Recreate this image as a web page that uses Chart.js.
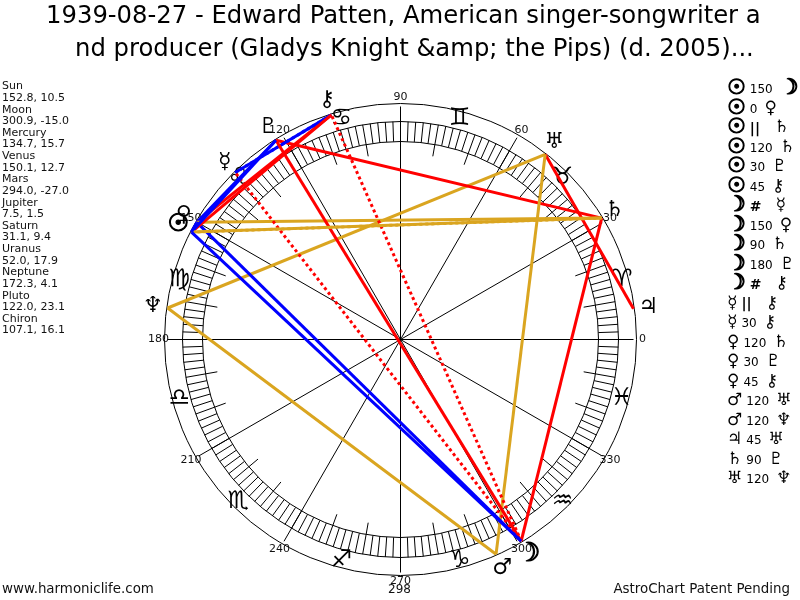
<!DOCTYPE html>
<html>
<head>
<meta charset="utf-8">
<style>
  html, body { margin: 0; padding: 0; background: #fff; }
  canvas { display: block; }
</style>
<script src="https://cdn.jsdelivr.net/npm/chart.js@4/dist/chart.umd.min.js"></script>
</head>
<body>
<canvas id="chart" width="800" height="600"></canvas>
<script>
const titleLines = [
  '1939-08-27 - Edward Patten, American singer-songwriter a',
  'nd producer (Gladys Knight &amp; the Pips) (d. 2005)...'
];

const planetNames = ['Sun', 'Moon', 'Mercury', 'Venus', 'Mars', 'Jupiter', 'Saturn', 'Uranus', 'Neptune', 'Pluto', 'Chiron'];
const planetGlyphs = ['\u2609', '\u263D', '\u263F', '\u2640', '\u2642', '\u2643', '\u2644', '\u2645', '\u2646', '\u2647', '\u26B7'];
const longitudes = [152.8, 300.9, 134.7, 150.1, 294.0, 7.5, 31.1, 52.0, 172.3, 122.0, 107.1];
const declinations = ['10.5', '-15.0', '15.7', '12.7', '-27.0', '1.5', '9.4', '17.9', '4.1', '23.1', '16.1'];

const signGlyphs = ['\u2648', '\u2649', '\u264A', '\u264B', '\u264C', '\u264D', '\u264E', '\u264F', '\u2650', '\u2651', '\u2652', '\u2653'];
const degreeLabels = [0, 30, 60, 90, 120, 150, 180, 210, 240, 270, 300, 330];

const aspectFrom = ['Sun', 'Sun', 'Sun', 'Sun', 'Sun', 'Sun', 'Moon', 'Moon', 'Moon', 'Moon', 'Moon', 'Mercury', 'Mercury', 'Venus', 'Venus', 'Venus', 'Mars', 'Mars', 'Jupiter', 'Saturn', 'Uranus'];
const aspectType = ['150', '0', '||', '120', '30', '45', '#', '150', '90', '180', '#', '||', '30', '120', '30', '45', '120', '120', '45', '90', '120'];
const aspectTo = ['Moon', 'Venus', 'Saturn', 'Saturn', 'Pluto', 'Chiron', 'Mercury', 'Venus', 'Saturn', 'Pluto', 'Chiron', 'Chiron', 'Chiron', 'Saturn', 'Pluto', 'Chiron', 'Uranus', 'Neptune', 'Uranus', 'Pluto', 'Neptune'];

const BLUE = '#0000ff';
const RED = '#ff0000';
const GOLD = '#daa520';
const INK = '#000000';
const FONT = '"DejaVu Sans", sans-serif';

const R_PLANET = 235;
const R_OUTER = 236;
const R_BAND_OUT = 218;
const R_BAND_IN = 198;
const R_LONG_TICK = 186;
const R_SPOKE = 233;
const R_SIGN = 229;
const R_LABEL = 242;
const R_GLYPH = 250;

function polar(lon, r) {
  const a = lon * Math.PI / 180;
  return { x: r * Math.cos(a), y: r * Math.sin(a) };
}

function planetLon(name) {
  return longitudes[planetNames.indexOf(name)];
}

function aspectColor(type, from, to) {
  if (type === '||' || type === '#') {
    let sep = Math.abs(planetLon(from) - planetLon(to));
    if (sep > 180) sep = 360 - sep;
    if (sep < 40) return BLUE;
    if (sep > 100 && sep < 140) return GOLD;
    return RED;
  }
  if (type === '120') return GOLD;
  if (type === '0' || type === '30' || type === '150') return BLUE;
  return RED;
}

// sun and moon are thin in DejaVu, the original has them heavy
function drawGlyph(ctx, g, size, gx, gy) {
  const heavy = g === '\u2609' || g === '\u263D';
  ctx.font = (heavy ? size + 4 : size) + 'px ' + FONT;
  ctx.fillText(g + '\uFE0E', gx, gy);
  if (heavy) {
    ctx.lineWidth = 1.2;
    ctx.strokeStyle = INK;
    ctx.strokeText(g + '\uFE0E', gx, gy);
  }
  return ctx.measureText(g + '\uFE0E').width;
}

const datasets = aspectType.map((type, i) => {
  const parallel = type === '||' || type === '#';
  return {
    label: aspectFrom[i] + ' ' + type + ' ' + aspectTo[i],
    data: [polar(planetLon(aspectFrom[i]), R_PLANET), polar(planetLon(aspectTo[i]), R_PLANET)],
    showLine: true,
    borderColor: aspectColor(type, aspectFrom[i], aspectTo[i]),
    borderWidth: 3,
    borderDash: parallel ? [3, 3] : [],
    pointRadius: 0,
    clip: false
  };
});

// rings, ticks, labels and the side lists, all placed through the scales
const wheelPlugin = {
  id: 'wheel',
  beforeDatasetsDraw(chart) {
    const { ctx, scales: { x, y } } = chart;
    const px = p => [x.getPixelForValue(p.x), y.getPixelForValue(p.y)];
    const cx = x.getPixelForValue(0);
    const cy = y.getPixelForValue(0);
    const seg = (lon, r0, r1) => {
      ctx.beginPath();
      ctx.moveTo(...px(polar(lon, r0)));
      ctx.lineTo(...px(polar(lon, r1)));
      ctx.stroke();
    };

    ctx.save();
    ctx.strokeStyle = INK;
    ctx.lineWidth = 1;
    [R_OUTER, R_BAND_OUT, R_BAND_IN].forEach(r => {
      ctx.beginPath();
      ctx.arc(cx, cy, r, 0, Math.PI * 2);
      ctx.stroke();
    });
    for (let d = 0; d < 360; d += 2) seg(d, R_BAND_IN, R_BAND_OUT);
    for (let d = 10; d < 360; d += 10) {
      if (d % 30) seg(d, R_LONG_TICK, R_BAND_IN);
    }
    degreeLabels.forEach(d => seg(d, 0, R_SPOKE));

    ctx.textAlign = 'center';
    ctx.textBaseline = 'middle';
    ctx.fillStyle = '#111111';
    ctx.font = '11px ' + FONT;
    degreeLabels.forEach(d => {
      ctx.fillText(String(d), ...px(polar(d, R_LABEL)));
    });
    ctx.fillStyle = INK;
    ctx.font = '24px ' + FONT;
    signGlyphs.forEach((g, i) => {
      ctx.fillText(g + '\uFE0E', ...px(polar(i * 30 + 15, R_SIGN)));
    });
    ctx.restore();
  },
  afterDatasetsDraw(chart) {
    const { ctx, scales: { x, y } } = chart;
    const px = p => [x.getPixelForValue(p.x), y.getPixelForValue(p.y)];

    ctx.save();
    ctx.fillStyle = INK;
    ctx.textBaseline = 'middle';

    // title, two lines broken mid-word like the original
    ctx.textAlign = 'left';
    ctx.font = '24.3px ' + FONT;
    ctx.fillText(titleLines[0], 46, 17);
    ctx.fillText(titleLines[1], 75, 50);

    ctx.textAlign = 'center';
    planetGlyphs.forEach((g, i) => {
      const [gx, gy] = px(polar(longitudes[i], R_GLYPH));
      drawGlyph(ctx, g, g === '\u2609' ? 20 : 22, gx, gy);
    });

    // planet table on the left
    ctx.textAlign = 'left';
    ctx.font = '11px ' + FONT;
    ctx.fillStyle = '#111111';
    planetNames.forEach((name, i) => {
      ctx.fillText(name, 2, 86.5 + i * 23.26);
      ctx.fillText(longitudes[i].toFixed(1) + ', ' + declinations[i], 2, 98 + i * 23.26);
    });

    // aspect list on the right
    ctx.fillStyle = INK;
    aspectType.forEach((type, i) => {
      const rowY = 89 + i * 19.5;
      const glyphA = planetGlyphs[planetNames.indexOf(aspectFrom[i])];
      const glyphB = planetGlyphs[planetNames.indexOf(aspectTo[i])];
      const parallel = type === '||' || type === '#';
      let cur = 727;
      cur += drawGlyph(ctx, glyphA, 17, cur, rowY) + 4;
      ctx.font = parallel ? 'bold 14px ' + FONT : '12px ' + FONT;
      ctx.fillText(type, cur, rowY + 1);
      cur += ctx.measureText(type).width + (parallel ? 14 : 7);
      drawGlyph(ctx, glyphB, 17, cur, rowY);
    });

    // footer
    ctx.font = '13.4px ' + FONT;
    ctx.fillStyle = '#111111';
    ctx.fillText('www.harmoniclife.com', 2, 590);
    ctx.textAlign = 'center';
    ctx.font = '12px ' + FONT;
    ctx.fillText('298', x.getPixelForValue(0) - 1, 590);
    ctx.textAlign = 'right';
    ctx.font = '13.4px ' + FONT;
    ctx.fillText('AstroChart Patent Pending', 790, 590);
    ctx.restore();
  }
};

new Chart(document.getElementById('chart'), {
  type: 'scatter',
  data: { datasets },
  plugins: [wheelPlugin],
  options: {
    responsive: false,
    animation: false,
    devicePixelRatio: 1,
    layout: { padding: 0 },
    plugins: {
      legend: { display: false },
      tooltip: { enabled: false }
    },
    scales: {
      x: { display: false, min: -400.5, max: 399.5 },
      y: { display: false, min: -260.5, max: 339.5 }
    }
  }
});
</script>
</body>
</html>
